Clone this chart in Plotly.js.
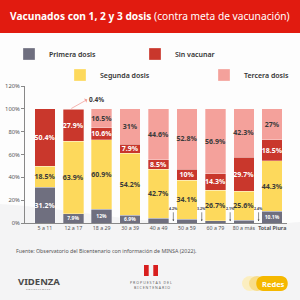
<!DOCTYPE html>
<html><head><meta charset="utf-8">
<script src="https://cdn.plot.ly/plotly-3.0.1.min.js"></script>
<style>html,body{margin:0;padding:0;background:#fff;} #chart{width:300px;height:300px;}</style>
</head><body><div id="chart"></div>
<script>
const categories = ['5 a 11','12 a 17','18 a 29','30 a 39','40 a 49','50 a 59','60 a 79','80 a más','Total Piura'];
const categoryLabels = ['5 a 11','12 a 17','18 a 29','30 a 39','40 a 49','50 a 59','60 a 79','80 a más','<b>Total Piura</b>'];
const primeraDosis = [31.2, 7.9, 12, 6.9, 4.2, 3.2, 2.1, 2.4, 10.1];
const segundaDosis = [18.5, 63.9, 60.9, 54.2, 42.7, 34.1, 26.7, 25.6, 44.3];
const sinVacunar   = [50.4, 27.9, 10.6, 7.9, 8.5, 10, 14.3, 29.7, 18.5];
const terceraDosis = [0, 0.4, 16.5, 31, 44.6, 52.8, 56.9, 42.3, 27];
const yTicks = [0, 20, 40, 60, 80, 100, 120];
const yTickLabels = ['0%', '20%', '40%', '60%', '80%', '100%', '120%'];

const FONT = 'Noto Sans, sans-serif';
const W = 300, H = 300;
const py = v => 1 - v / H;
const idx = categories.map((c, i) => i);
const pct = v => v + '%';

function barTrace(name, values, color, textColor, legend, textRule, sizeRule) {
  return {
    type: 'bar', name: name, x: idx, y: values,
    marker: {color: color, line: {color: 'rgba(255,255,255,0.6)', width: 0.5}},
    width: 0.72,
    text: values.map(v => textRule(v) ? pct(v) : ''),
    textposition: 'inside', insidetextanchor: 'middle', textangle: 0, constraintext: 'none',
    textfont: {family: FONT, color: textColor, size: values.map(sizeRule), weight: 700},
    legend: legend, hoverinfo: 'skip', cliponaxis: false
  };
}

const traces = [
  barTrace('Primera dosis', primeraDosis, '#6f6f7f', '#ffffff', 'legend', v => v >= 5, v => v > 20 ? 7 : 5),
  barTrace('Segunda dosis', segundaDosis, '#fdd95c', '#3a3a3a', 'legend3', v => v >= 5, v => 7),
  barTrace('Sin vacunar', sinVacunar, '#c9372c', '#ffffff', 'legend2', v => v >= 5, v => 7),
  barTrace('Tercera dosis', terceraDosis, '#f4a19b', '#3a3a3a', 'legend4', v => v >= 5, v => 7)
];

const annotations = [
  {xref: 'paper', yref: 'paper', x: 0.5, y: py(16), showarrow: false, xanchor: 'center', yanchor: 'middle',
   text: '<b>Vacunados con 1, 2 y 3 dosis</b> (contra meta de vacunación)',
   font: {family: FONT, size: 10.2, color: '#ffffff'}},
  {xref: 'x', yref: 'y', x: 0.93, y: 100.3, ax: 16, ay: -9, showarrow: true, arrowhead: 2, arrowside: 'start',
   arrowsize: 0.6, arrowwidth: 0.8, arrowcolor: '#f4a19b', text: '<b>0.4%</b>', xanchor: 'left',
   font: {family: FONT, size: 6.5, color: '#3a3a3a'}},
  {xref: 'paper', yref: 'paper', x: 14 / W, y: py(251), showarrow: false, xanchor: 'left', yanchor: 'middle',
   text: 'Fuente: Observatorio del Bicentenario con información de MINSA (2022).',
   font: {family: FONT, size: 5.3, color: '#555555'}},
  {xref: 'paper', yref: 'paper', x: 16 / W, y: py(281), showarrow: false, xanchor: 'left', yanchor: 'middle',
   text: '<b>VIDENZA</b>', font: {family: FONT, size: 9.5, color: '#4a4a4a'}},
  {xref: 'paper', yref: 'paper', x: 38 / W, y: py(288.5), showarrow: false, xanchor: 'center', yanchor: 'middle',
   text: 'C O N S U L T O R E S', font: {family: FONT, size: 2.5, color: '#777777'}},
  {xref: 'paper', yref: 'paper', x: 151 / W, y: py(282), showarrow: false, xanchor: 'center', yanchor: 'middle',
   text: 'P R O P U E S T A S   D E L', font: {family: FONT, size: 3.6, color: '#666666'}},
  {xref: 'paper', yref: 'paper', x: 152 / W, y: py(287.5), showarrow: false, xanchor: 'center', yanchor: 'middle',
   text: 'B I C E N T E N A R I O', font: {family: FONT, size: 3.6, color: '#666666'}},
  {xref: 'paper', yref: 'paper', x: 273 / W, y: py(284), showarrow: false, xanchor: 'center', yanchor: 'middle',
   text: '<b>Redes</b>', font: {family: FONT, size: 7.5, color: '#ffffff'}}
];

// small primera dosis labels shown outside with leaders
primeraDosis.forEach((v, i) => {
  if (v < 5) {
    annotations.push({xref: 'x', yref: 'y', x: i + 0.52, y: 1.5, ax: 0, ay: -13, showarrow: true,
      arrowhead: 2, arrowsize: 0.6, arrowwidth: 0.6, arrowcolor: '#444444',
      text: '<b>' + pct(v) + '</b>', font: {family: FONT, size: 3.6, color: '#444444'}});
  }
});

const shapes = [
  {type: 'rect', xref: 'paper', yref: 'paper', x0: 0, x1: 1, y0: py(33), y1: 1, fillcolor: '#e11b10', line: {width: 0}, layer: 'below'},
  {type: 'path', xref: 'paper', yref: 'paper', path: 'M0,0.32 C0.3,0.30 0.6,0.22 1,0.26 L1,0 L0,0 Z', fillcolor: 'rgba(235,235,238,0.5)', line: {width: 0}, layer: 'below'},
  // flag
  {type: 'rect', xref: 'paper', yref: 'paper', x0: 144 / W, x1: 148.7 / W, y0: py(276), y1: py(265), fillcolor: '#d81e1e', line: {width: 0}},
  {type: 'rect', xref: 'paper', yref: 'paper', x0: 153.3 / W, x1: 158 / W, y0: py(276), y1: py(265), fillcolor: '#d81e1e', line: {width: 0}},
  // Redes pill
  {type: 'circle', xref: 'paper', yref: 'paper', x0: 242 / W, x1: 258 / W, y0: py(291), y1: py(276), fillcolor: '#fbeec0', line: {width: 0}},
  {type: 'circle', xref: 'paper', yref: 'paper', x0: 249 / W, x1: 265 / W, y0: py(291), y1: py(276), fillcolor: '#f8dd8a', line: {width: 0}},
  {type: 'path', xref: 'paper', yref: 'paper',
   path: `M${263/W},${py(276)} L${281/W},${py(276)} C${290/W},${py(276)} ${290/W},${py(291)} ${281/W},${py(291)} L${263/W},${py(291)} C${254/W},${py(291)} ${254/W},${py(276)} ${263/W},${py(276)} Z`,
   fillcolor: '#f5b800', line: {width: 0}}
];

function legendAt(xPx, yPx) {
  return {orientation: 'h', x: xPx / W, y: py(yPx), xanchor: 'left', yanchor: 'middle', traceorder: 'normal',
          bgcolor: 'rgba(0,0,0,0)', font: {family: FONT, size: 7, color: '#333', weight: 600}, itemclick: false};
}

const layout = {
  width: W, height: H,
  margin: {l: 0, r: 0, t: 0, b: 0},
  paper_bgcolor: '#fdfdfd', plot_bgcolor: 'rgba(0,0,0,0)',
  barmode: 'stack', bargap: 0.28,
  font: {family: FONT, color: '#444'},
  showlegend: true,
  legend: legendAt(9, 54),
  legend2: legendAt(135, 54),
  legend3: legendAt(60, 75),
  legend4: legendAt(204, 75),
  xaxis: {domain: [25 / W, 287 / W], range: [-0.7, 8.52], tickvals: idx, ticktext: categoryLabels,
          showline: true, linecolor: '#888', linewidth: 1, showgrid: false, zeroline: false, ticks: '',
          tickfont: {family: FONT, size: 5.3, color: '#555'}, fixedrange: true, automargin: false},
  yaxis: {domain: [py(223), py(86)], range: [0, 120], tickvals: yTicks, ticktext: yTickLabels,
          showline: true, linecolor: '#888', linewidth: 1, showgrid: false, zeroline: false,
          ticks: 'outside', ticklen: 3, tickcolor: '#888', tickfont: {family: FONT, size: 5.8, color: '#555'},
          fixedrange: true, automargin: false},
  annotations: annotations, shapes: shapes
};

Plotly.newPlot('chart', traces, layout, {displayModeBar: false, staticPlot: true});
</script></body></html>
